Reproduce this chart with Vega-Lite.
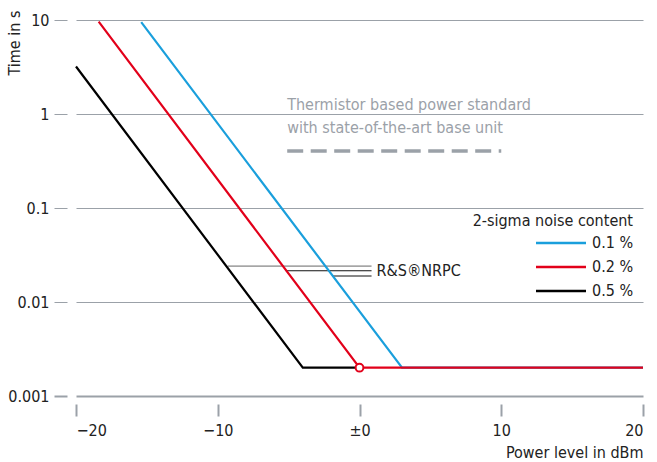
{
  "$schema": "https://vega.github.io/schema/vega-lite/v6.json",
  "width": 567,
  "height": 376,
  "autosize": {"type": "none"},
  "padding": {"left": 76, "top": 20, "right": 14, "bottom": 66},
  "background": "white",
  "config": {
    "font": "DejaVu Sans Condensed, Roboto, sans-serif",
    "view": {"stroke": null},
    "axis": {"labelFont": "DejaVu Sans Condensed, Roboto, sans-serif", "titleFont": "DejaVu Sans Condensed, Roboto, sans-serif", "labelFontSize": 16, "titleFontSize": 16, "labelColor": "#222", "titleColor": "#222", "titleFontWeight": "normal"},
    "legend": {"labelFont": "DejaVu Sans Condensed, Roboto, sans-serif", "titleFont": "DejaVu Sans Condensed, Roboto, sans-serif"}
  },
  "datasets": {
    "curves": [
      {"series": "0.1 %", "x": -15.4, "y": 9.5},
      {"series": "0.1 %", "x": 3, "y": 0.002},
      {"series": "0.1 %", "x": 20, "y": 0.002},
      {"series": "0.2 %", "x": -18.4, "y": 9.6},
      {"series": "0.2 %", "x": 0, "y": 0.002},
      {"series": "0.2 %", "x": 20, "y": 0.002},
      {"series": "0.5 %", "x": -20, "y": 3.2},
      {"series": "0.5 %", "x": -4, "y": 0.002},
      {"series": "0.5 %", "x": 0, "y": 0.002}
    ],
    "pointers": [
      {"x": -9.3, "x2": 0.85, "y": 0.0241, "c": "top"},
      {"x": -5.2, "x2": 0.85, "y": 0.0215, "c": "mid"},
      {"x": -1.9, "x2": 0.85, "y": 0.0189, "c": "bot"}
    ]
  },
  "layer": [
    {
      "data": {"values": [{"x": -5.1, "x2": 10, "y": 0.404}]},
      "mark": {"type": "rule", "color": "#9ba1a8", "strokeWidth": 3.5, "strokeDash": [16, 7.5]},
      "encoding": {
        "x": {"field": "x", "type": "quantitative"},
        "x2": {"field": "x2"},
        "y": {"field": "y", "type": "quantitative"}
      }
    },
    {
      "data": {"values": [
        {"x": -5.1, "y": 1.1, "t": "Thermistor based power standard"},
        {"x": -5.1, "y": 0.628, "t": "with state-of-the-art base unit"}
      ]},
      "mark": {"type": "text", "align": "left", "baseline": "alphabetic", "fontSize": 16, "color": "#9ba1a8"},
      "encoding": {
        "x": {"field": "x", "type": "quantitative"},
        "y": {"field": "y", "type": "quantitative"},
        "text": {"field": "t"}
      }
    },
    {
      "data": {"name": "pointers"},
      "transform": [{"filter": "datum.c == 'top'"}],
      "mark": {"type": "rule", "strokeWidth": 1, "color": "#666666"},
      "encoding": {
        "x": {"field": "x", "type": "quantitative"},
        "x2": {"field": "x2"},
        "y": {"field": "y", "type": "quantitative"}
      }
    },
    {
      "data": {"name": "pointers"},
      "transform": [{"filter": "datum.c != 'top'"}],
      "mark": {"type": "rule", "strokeWidth": 1, "color": "#111111"},
      "encoding": {
        "x": {"field": "x", "type": "quantitative"},
        "x2": {"field": "x2"},
        "y": {"field": "y", "type": "quantitative"}
      }
    },
    {
      "data": {"values": [{"x": 1.2, "y": 0.0213, "t": "R&S®NRPC"}]},
      "mark": {"type": "text", "align": "left", "baseline": "middle", "fontSize": 16, "color": "#222"},
      "encoding": {
        "x": {"field": "x", "type": "quantitative"},
        "y": {"field": "y", "type": "quantitative"},
        "text": {"field": "t"}
      }
    },
    {
      "data": {"name": "curves"},
      "mark": {"type": "line", "strokeWidth": 2.2},
      "encoding": {
        "x": {
          "field": "x", "type": "quantitative",
          "scale": {"domain": [-20, 20], "nice": false, "zero": false},
          "axis": {
            "values": [-20, -10, 0, 10, 20],
            "labelExpr": "datum.value == 0 ? '±0' : (datum.value < 0 ? '−' + abs(datum.value) : datum.label)",
            "grid": false, "domain": false,
            "offset": 8, "tickSize": 12, "tickWidth": 2, "tickColor": "#9ba1a8",
            "labelPadding": 6,
            "title": "Power level in dBm",
            "titleAnchor": "end", "titleAlign": "right", "titleBaseline": "alphabetic",
            "titleX": 567, "titleY": 53
          }
        },
        "y": {
          "field": "y", "type": "quantitative",
          "scale": {"type": "log", "domain": [0.001, 10], "nice": false},
          "axis": {
            "values": [0.001, 0.01, 0.1, 1, 10],
            "format": "~g",
            "domain": false,
            "offset": 9, "tickSize": 13, "tickColor": "#9ba1a8",
            "tickWidth": {"condition": {"test": "datum.value == 0.001", "value": 2}, "value": 1},
            "labelPadding": 5,
            "grid": true, "gridColor": "#9ba1a8",
            "gridWidth": {"condition": {"test": "datum.value == 0.001", "value": 2.2}, "value": 1},
            "title": "Time in s",
            "titleAngle": -90, "titleAlign": "right", "titleBaseline": "middle",
            "titleX": -53, "titleY": -10
          }
        },
        "color": {
          "field": "series", "type": "nominal",
          "scale": {"domain": ["0.1 %", "0.2 %", "0.5 %"], "range": ["#1a9fdc", "#e2001a", "#000000"]},
          "legend": {
            "orient": "none", "legendX": 397, "legendY": 193,
            "title": "2-sigma noise content",
            "titleFontSize": 16, "titleFontWeight": "normal", "titleColor": "#222",
            "titleAnchor": "end", "titleAlign": "right", "titlePadding": 6,
            "labelFontSize": 16, "labelColor": "#222", "labelOffset": 8,
            "symbolType": "M-8,0H2", "symbolSize": 100, "symbolStrokeWidth": 2.5,
            "rowPadding": 8
          }
        }
      }
    },
    {
      "data": {"values": [{"x": 0, "y": 0.002}]},
      "mark": {"type": "point", "shape": "circle", "size": 60, "stroke": "#e2001a", "strokeWidth": 2, "fill": "white", "filled": false, "opacity": 1},
      "encoding": {
        "x": {"field": "x", "type": "quantitative"},
        "y": {"field": "y", "type": "quantitative"}
      }
    }
  ]
}
